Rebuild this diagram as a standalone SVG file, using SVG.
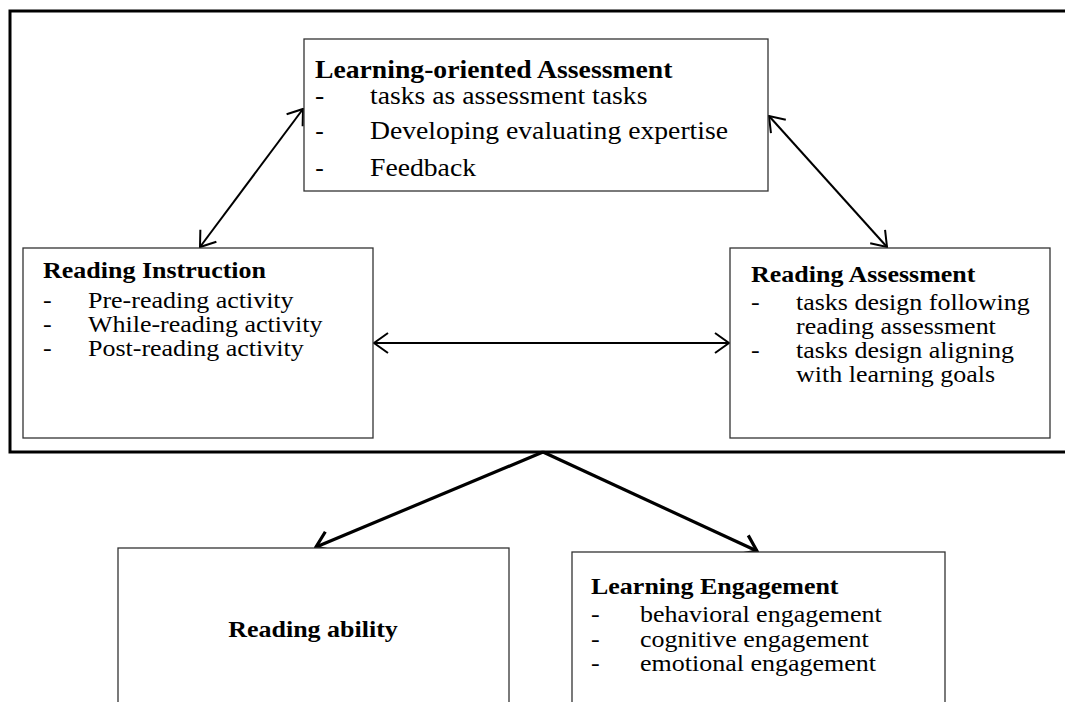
<svg xmlns="http://www.w3.org/2000/svg" width="1065" height="702" viewBox="0 0 1065 702">
<style>
text{font-family:"Liberation Serif","Times New Roman",serif;fill:#000}
.t{font-weight:bold;font-size:23.5px}
.i{font-size:23.5px}
.ra .t,.ra .i{font-size:23px}
.tt{font-weight:bold;font-size:24.5px}
.ti{font-size:24.5px}
.ds{font-family:"Liberation Sans",Arial,sans-serif;font-size:24px}
.box{fill:#fff;stroke:#333;stroke-width:1.3}
.frame{fill:none;stroke:#000;stroke-width:3}
.c{stroke:#000;stroke-width:2;fill:none}
.cb{stroke:#000;stroke-width:3.2;fill:none}
</style>
<defs>
<marker id="ah" markerUnits="userSpaceOnUse" viewBox="0 0 16 22" refX="15" refY="11" markerWidth="16" markerHeight="22" orient="auto-start-reverse">
<path d="M1,1 L15,11 L1,21" fill="none" stroke="#000" stroke-width="2"/>
</marker>
<marker id="ahb" markerUnits="userSpaceOnUse" viewBox="0 0 18 24" refX="16" refY="12" markerWidth="18" markerHeight="24" orient="auto">
<path d="M1.5,1.5 L16,12 L1.5,22.5" fill="none" stroke="#000" stroke-width="3.2"/>
</marker>
</defs>
<path class="frame" d="M1070,11 H10 V452 H1070"/>
<g id="connectors">
<line class="c" x1="200" y1="247" x2="303" y2="109" marker-start="url(#ah)" marker-end="url(#ah)"/>
<line class="c" x1="769" y1="116" x2="887" y2="247" marker-start="url(#ah)" marker-end="url(#ah)"/>
<line class="c" x1="374" y1="343" x2="729" y2="343" marker-start="url(#ah)" marker-end="url(#ah)"/>
<line class="cb" x1="543" y1="452" x2="316" y2="547" marker-end="url(#ahb)"/>
<line class="cb" x1="543" y1="452" x2="757" y2="551" marker-end="url(#ahb)"/>
</g>
<g id="learning-oriented-assessment">
<rect class="box" x="304" y="39" width="464" height="152"/>
<g transform="translate(315,0) scale(1.13,1)">
<text class="tt" x="0" y="78">Learning-oriented Assessment</text>
<text class="ti" x="0" y="104">-</text>
<text class="ti" x="48.67" y="104">tasks as assessment tasks</text>
<text class="ds" x="0" y="139">-</text>
<text class="ti" x="48.67" y="139">Developing evaluating expertise</text>
<text class="ds" x="0" y="176">-</text>
<text class="ti" x="48.67" y="176">Feedback</text>
</g>
</g>
<g id="reading-instruction">
<rect class="box" x="23" y="248" width="350" height="190"/>
<g transform="translate(43,0) scale(1.106,1)">
<text class="t" x="0" y="278">Reading Instruction</text>
<text class="i" x="0" y="308">-</text>
<text class="i" x="40.69" y="308">Pre-reading activity</text>
<text class="i" x="0" y="332">-</text>
<text class="i" x="40.69" y="332">While-reading activity</text>
<text class="i" x="0" y="356">-</text>
<text class="i" x="40.69" y="356">Post-reading activity</text>
</g>
</g>
<g id="reading-assessment" class="ra">
<rect class="box" x="730" y="248" width="320" height="190"/>
<g transform="translate(751,0) scale(1.13,1)">
<text class="t" x="0" y="282">Reading Assessment</text>
<text class="i" x="0" y="310">-</text>
<text class="i" x="39.82" y="310">tasks design following</text>
<text class="i" x="39.82" y="334">reading assessment</text>
<text class="i" x="0" y="358">-</text>
<text class="i" x="39.82" y="358">tasks design aligning</text>
<text class="i" x="39.82" y="382">with learning goals</text>
</g>
</g>
<g id="reading-ability">
<rect class="box" x="118" y="548" width="391" height="170"/>
<g transform="translate(313,0) scale(1.106,1)">
<text class="t" x="0" y="637" text-anchor="middle">Reading ability</text>
</g>
</g>
<g id="learning-engagement">
<rect class="box" x="572" y="552" width="373" height="170"/>
<g transform="translate(591,0) scale(1.106,1)">
<text class="t" x="0" y="594">Learning Engagement</text>
<text class="i" x="0" y="622">-</text>
<text class="i" x="44.3" y="622">behavioral engagement</text>
<text class="i" x="0" y="647">-</text>
<text class="i" x="44.3" y="647">cognitive engagement</text>
<text class="i" x="0" y="671">-</text>
<text class="i" x="44.3" y="671">emotional engagement</text>
</g>
</g>
</svg>
